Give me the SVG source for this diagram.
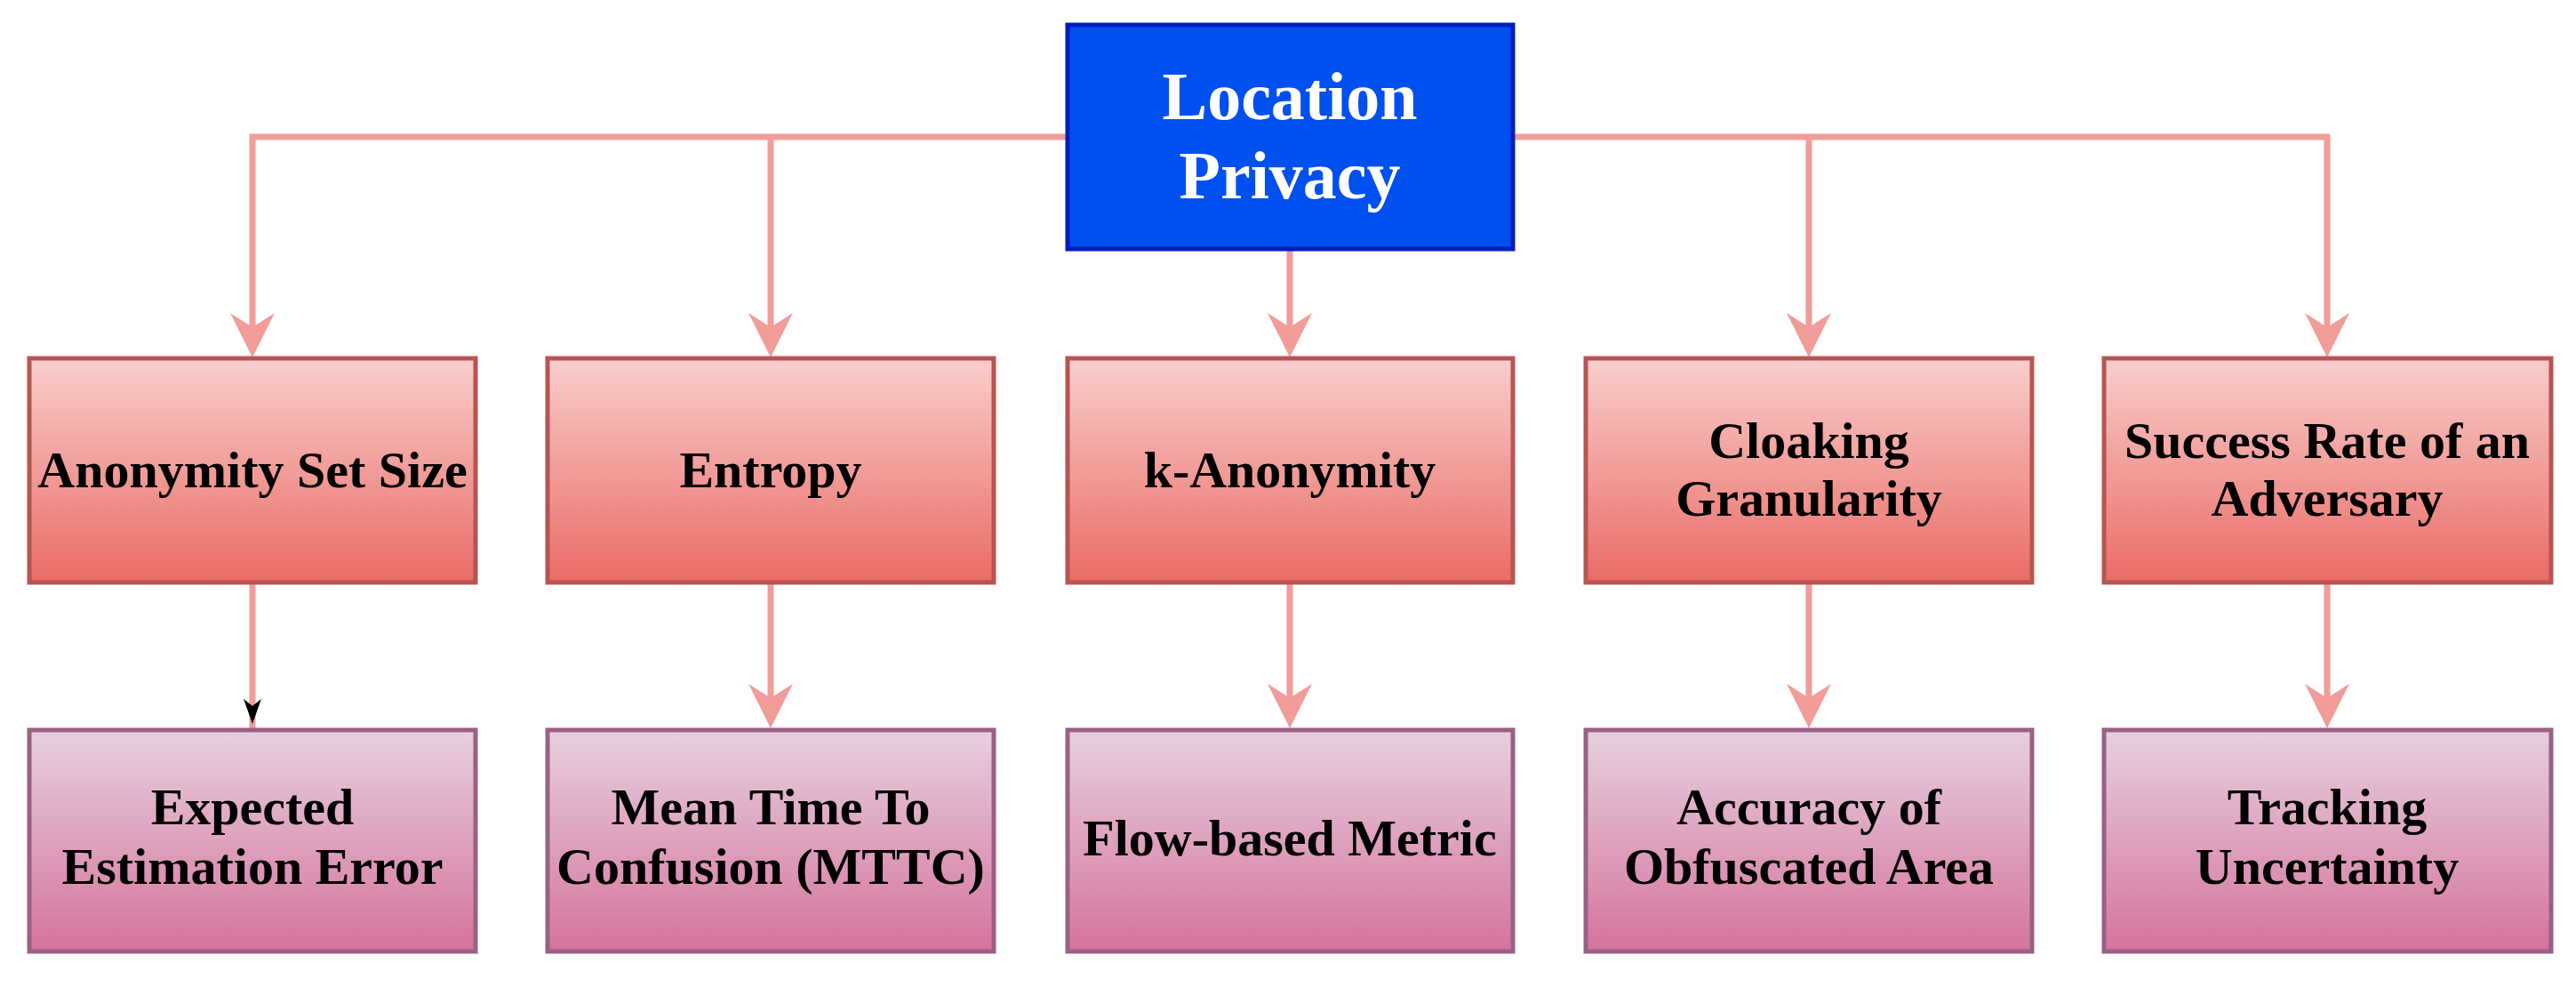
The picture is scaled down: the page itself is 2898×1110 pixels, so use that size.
<svg xmlns="http://www.w3.org/2000/svg" width="2898" height="1110" viewBox="0 0 2898 1110">
<style>
.t{font-family:"Liberation Serif","Times New Roman",serif;font-weight:bold;font-size:58px;text-anchor:middle;fill:#000}
.w{fill:#fff;font-size:76px}
.e{fill:none;stroke:#F19C99;stroke-width:7}
.r{fill:url(#gr);stroke:#B85450;stroke-width:5}
.p{fill:url(#gp);stroke:#996185;stroke-width:5}
</style>
<defs>
<linearGradient id="gr" x1="0" y1="0" x2="0" y2="1"><stop offset="0" stop-color="#F8CECC"/><stop offset="1" stop-color="#EA6B66"/></linearGradient>
<linearGradient id="gp" x1="0" y1="0" x2="0" y2="1"><stop offset="0" stop-color="#E6D0DE"/><stop offset="1" stop-color="#D5739D"/></linearGradient>
</defs>
<g id="connectors">
<path class="e" d="M1201 154 H284 V395"/>
<path class="e" d="M867 154 V395"/>
<path class="e" d="M1451 280 V395"/>
<path class="e" d="M1702 154 H2618 V395"/>
<path class="e" d="M2035 154 V395"/>
<path class="e" d="M284 655 V819"/>
<path class="e" d="M867 655 V812"/>
<path class="e" d="M1451 655 V812"/>
<path class="e" d="M2035 655 V812"/>
<path class="e" d="M2618 655 V812"/>
<g fill="#F19C99">
<path d="M259 352 L284 402 L309 352 L284 368 Z"/>
<path d="M842 352 L867 402 L892 352 L867 368 Z"/>
<path d="M1426 352 L1451 402 L1476 352 L1451 368 Z"/>
<path d="M2010 352 L2035 402 L2060 352 L2035 368 Z"/>
<path d="M2593 352 L2618 402 L2643 352 L2618 368 Z"/>
<path d="M842 769 L867 819 L892 769 L867 785 Z"/>
<path d="M1426 769 L1451 819 L1476 769 L1451 785 Z"/>
<path d="M2010 769 L2035 819 L2060 769 L2035 785 Z"/>
<path d="M2593 769 L2618 819 L2643 769 L2618 785 Z"/>
</g>
<path d="M274 786 L284 814 L294 786 L284 794 Z" fill="#000"/>
</g>
<g id="root"><rect x="1201" y="28" width="501" height="252" fill="#0050EF" stroke="#001DBC" stroke-width="5"/>
<text class="t w" x="1451" y="134">Location</text><text class="t w" x="1451" y="223">Privacy</text></g>
<g id="n1"><rect class="r" x="33" y="403" width="502" height="252"/><text class="t" x="284" y="548">Anonymity Set Size</text></g>
<g id="n2"><rect class="r" x="616" y="403" width="502" height="252"/><text class="t" x="867" y="548">Entropy</text></g>
<g id="n3"><rect class="r" x="1201" y="403" width="501" height="252"/><text class="t" x="1451" y="548">k-Anonymity</text></g>
<g id="n4"><rect class="r" x="1784" y="403" width="502" height="252"/><text class="t" x="2035" y="515">Cloaking</text><text class="t" x="2035" y="580">Granularity</text></g>
<g id="n5"><rect class="r" x="2367" y="403" width="503" height="252"/><text class="t" x="2618" y="515">Success Rate of an</text><text class="t" x="2618" y="580">Adversary</text></g>
<g id="m1"><rect class="p" x="33" y="821" width="502" height="249"/><text class="t" x="284" y="927">Expected</text><text class="t" x="284" y="994">Estimation Error</text></g>
<g id="m2"><rect class="p" x="616" y="821" width="502" height="249"/><text class="t" x="867" y="927">Mean Time To</text><text class="t" x="867" y="994">Confusion (MTTC)</text></g>
<g id="m3"><rect class="p" x="1201" y="821" width="501" height="249"/><text class="t" x="1451" y="962">Flow-based Metric</text></g>
<g id="m4"><rect class="p" x="1784" y="821" width="502" height="249"/><text class="t" x="2035" y="927">Accuracy of</text><text class="t" x="2035" y="994">Obfuscated Area</text></g>
<g id="m5"><rect class="p" x="2367" y="821" width="503" height="249"/><text class="t" x="2618" y="927">Tracking</text><text class="t" x="2618" y="994">Uncertainty</text></g>
</svg>
